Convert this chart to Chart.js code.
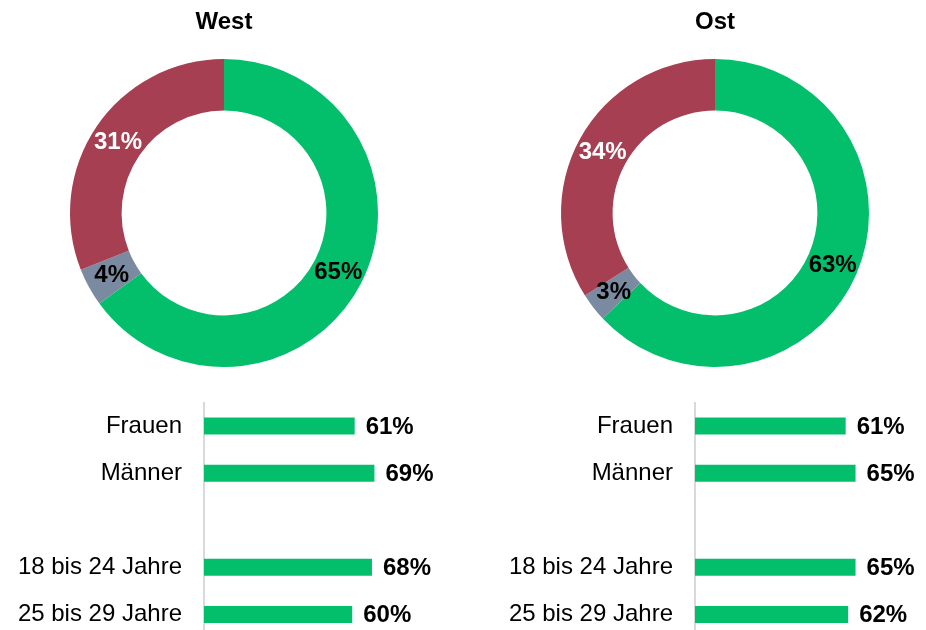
<!DOCTYPE html>
<html>
<head>
<meta charset="utf-8">
<script src="https://cdn.jsdelivr.net/npm/chart.js@4/dist/chart.umd.min.js"></script>
<style>
  html, body { margin: 0; padding: 0; background: #ffffff; }
  body { width: 926px; height: 630px; overflow: hidden; position: relative; }
  canvas { position: absolute; }
</style>
</head>
<body>
<canvas id="westDonut" width="400" height="367" style="left:24px;top:0px;width:400px;height:367px"></canvas>
<canvas id="ostDonut" width="400" height="367" style="left:515px;top:0px;width:400px;height:367px"></canvas>
<canvas id="westBars" width="460" height="243" style="left:0px;top:395px;width:460px;height:243px"></canvas>
<canvas id="ostBars" width="460" height="243" style="left:491px;top:395px;width:460px;height:243px"></canvas>
<script>
// ---- Data ----
const segmentLabels = ["Ja", "Weiß nicht", "Nein"];
const westShares = [65, 4, 31];
const ostShares = [63, 3, 34];

const groupLabels = ["Frauen", "Männer", "", "18 bis 24 Jahre", "25 bis 29 Jahre"];
const westGroups = [61, 69, null, 68, 60];
const ostGroups = [61, 65, null, 65, 62];

// ---- Styles ----
const FONT = "'Liberation Sans', Arial, Helvetica, sans-serif";
const GREEN = "#03BF6B";
const RED = "#A63F51";
const GREY = "#7A8AA0";
const segmentColors = [GREEN, GREY, RED];
const segmentLabelColors = ["#000000", "#000000", "#ffffff"];

const donutLabelPlugin = {
  id: "donutLabels",
  afterDatasetsDraw(chart) {
    const ctx = chart.ctx;
    const meta = chart.getDatasetMeta(0);
    const data = chart.data.datasets[0].data;
    ctx.save();
    ctx.font = "bold 24px " + FONT;
    ctx.textAlign = "center";
    ctx.textBaseline = "middle";
    meta.data.forEach((arc, i) => {
      const p = arc.tooltipPosition();
      ctx.fillStyle = segmentLabelColors[i];
      ctx.fillText(data[i] + "%", p.x, p.y + 1);
    });
    ctx.restore();
  }
};

const barLabelPlugin = {
  id: "barLabels",
  afterDatasetsDraw(chart) {
    const ctx = chart.ctx;
    const meta = chart.getDatasetMeta(0);
    const data = chart.data.datasets[0].data;
    ctx.save();
    ctx.font = "bold 24px " + FONT;
    ctx.textAlign = "left";
    ctx.textBaseline = "middle";
    ctx.fillStyle = "#000000";
    meta.data.forEach((bar, i) => {
      if (data[i] === null || data[i] === undefined) return;
      ctx.fillText(data[i] + "%", bar.x + 11, bar.y + 1);
    });
    ctx.restore();
  }
};

function makeDonut(id, title, values) {
  return new Chart(document.getElementById(id), {
    type: "doughnut",
    data: {
      labels: segmentLabels,
      datasets: [{
        data: values,
        backgroundColor: segmentColors,
        borderWidth: 0,
        hoverOffset: 0
      }]
    },
    options: {
      responsive: false,
      animation: false,
      devicePixelRatio: 1,
      cutout: "66.5%",
      layout: { padding: 0 },
      plugins: {
        legend: { display: false },
        tooltip: { enabled: false },
        title: {
          display: true,
          text: title,
          color: "#000000",
          font: { family: FONT, size: 24, weight: "bold", lineHeight: 1.2 },
          padding: { top: 7.6, bottom: 22.6 }
        }
      }
    },
    plugins: [donutLabelPlugin]
  });
}

function makeBars(id, values) {
  return new Chart(document.getElementById(id), {
    type: "bar",
    data: {
      labels: groupLabels,
      datasets: [{
        data: values,
        backgroundColor: GREEN,
        borderWidth: 0,
        barPercentage: 0.36,
        categoryPercentage: 1
      }]
    },
    options: {
      indexAxis: "y",
      responsive: false,
      animation: false,
      devicePixelRatio: 1,
      layout: { autoPadding: false, padding: { top: 7.5, right: 9, bottom: 0, left: 0 } },
      scales: {
        x: { display: false, min: 0, max: 100 },
        y: {
          afterFit(scale) {
            scale.width = 204;
            scale.paddingTop = 0;
            scale.paddingBottom = 0;
          },
          grid: { display: false, drawTicks: false },
          border: { display: true, color: "#D9D9D9", width: 2 },
          ticks: {
            color: "#000000",
            padding: 22,
            font: { family: FONT, size: 24 }
          }
        }
      },
      plugins: {
        legend: { display: false },
        tooltip: { enabled: false }
      }
    },
    plugins: [barLabelPlugin]
  });
}

makeDonut("westDonut", "West", westShares);
makeDonut("ostDonut", "Ost", ostShares);
makeBars("westBars", westGroups);
makeBars("ostBars", ostGroups);
</script>
</body>
</html>
